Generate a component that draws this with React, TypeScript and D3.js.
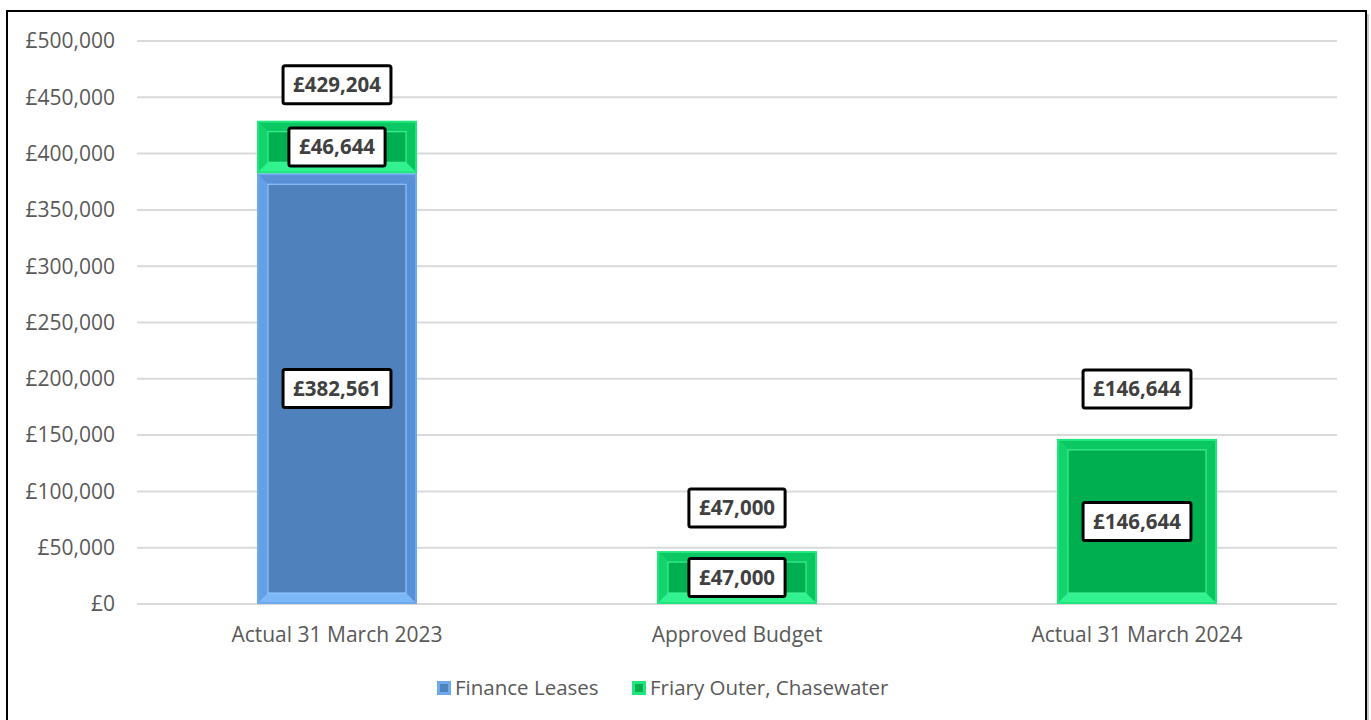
import React, { useEffect, useRef } from "react";
import * as d3 from "d3";

const categories = ["Actual 31 March 2023", "Approved Budget", "Actual 31 March 2024"];
const financeLeases = [382561, 0, 0];
const friaryOuter = [46644, 47000, 146644];
const totals = [429204, 47000, 146644];
const seriesNames = ["Finance Leases", "Friary Outer, Chasewater"];
const yTicks = [0, 50000, 100000, 150000, 200000, 250000, 300000, 350000, 400000, 450000, 500000];

const W = 1371;
const H = 720;
const FONT = "'Open Sans', 'DejaVu Sans', sans-serif";

const palettes = {
  blue: {
    outer: "#6ea8ef",
    top: "#5a90d6",
    left: "#64a0e6",
    right: "#5890d8",
    bottom: "#7cb8f8",
    inner: "#4f81bd",
    innerStroke: "#9ccaff",
  },
  green: {
    outer: "#1ee87c",
    top: "#0cc862",
    left: "#12d46b",
    right: "#0bc460",
    bottom: "#30f28e",
    inner: "#00b050",
    innerStroke: "#48f79a",
  },
};

type Pal = typeof palettes.blue;

function drawBevel(g: any, x: number, y: number, w: number, h: number, p: Pal) {
  const o = 2;
  const b = Math.min(9, h / 4);
  g.append("rect").attr("x", x).attr("y", y).attr("width", w).attr("height", h).attr("fill", p.outer);
  const x0 = x + o, y0 = y + o, x1 = x + w - o, y1 = y + h - o;
  const ix0 = x0 + b, iy0 = y0 + b, ix1 = x1 - b, iy1 = y1 - b;
  const poly = (pts: number[][], fill: string) =>
    g.append("polygon").attr("points", pts.map((q) => q.join(",")).join(" ")).attr("fill", fill);
  poly([[x0, y0], [x1, y0], [ix1, iy0], [ix0, iy0]], p.top);
  poly([[x0, y0], [ix0, iy0], [ix0, iy1], [x0, y1]], p.left);
  poly([[x1, y0], [x1, y1], [ix1, iy1], [ix1, iy0]], p.right);
  poly([[x0, y1], [ix0, iy1], [ix1, iy1], [x1, y1]], p.bottom);
  g.append("rect")
    .attr("x", ix0)
    .attr("y", iy0)
    .attr("width", Math.max(0, ix1 - ix0))
    .attr("height", Math.max(0, iy1 - iy0))
    .attr("fill", p.inner)
    .attr("stroke", p.innerStroke)
    .attr("stroke-width", 1);
}

export default function App() {
  const ref = useRef<SVGSVGElement | null>(null);

  useEffect(() => {
    const svg = d3.select(ref.current);
    svg.selectAll("*").remove();

    // chart border with shadow
    svg.append("rect").attr("x", 10).attr("y", 14).attr("width", 1359).attr("height", 720).attr("fill", "#c8c8c8");
    svg
      .append("rect")
      .attr("x", 7)
      .attr("y", 11)
      .attr("width", 1359)
      .attr("height", 720)
      .attr("fill", "#ffffff")
      .attr("stroke", "#000")
      .attr("stroke-width", 2);

    const left = 137, right = 1337, top = 41, bottom = 604;
    const x = d3.scaleBand().domain(categories).range([left, right]).paddingInner(0.6).paddingOuter(0.3);
    const y = d3.scaleLinear().domain([0, 500000]).range([bottom, top]);

    const fmt = (v: number) => "£" + d3.format(",")(v);

    // gridlines
    svg
      .append("g")
      .selectAll("line")
      .data(yTicks)
      .join("line")
      .attr("x1", left)
      .attr("x2", right)
      .attr("y1", (d) => y(d))
      .attr("y2", (d) => y(d))
      .attr("stroke", "#d9d9d9")
      .attr("stroke-width", 2);

    // y tick labels
    svg
      .append("g")
      .selectAll("text")
      .data(yTicks)
      .join("text")
      .attr("x", 115)
      .attr("y", (d) => y(d))
      .attr("dy", "0.35em")
      .attr("text-anchor", "end")
      .attr("font-family", FONT)
      .attr("font-size", 21)
      .attr("fill", "#595959")
      .text((d) => fmt(d));

    // x labels
    svg
      .append("g")
      .selectAll("text")
      .data(categories)
      .join("text")
      .attr("x", (d) => (x(d) as number) + x.bandwidth() / 2)
      .attr("y", 635)
      .attr("dy", "0.35em")
      .attr("text-anchor", "middle")
      .attr("font-family", FONT)
      .attr("font-size", 21)
      .attr("fill", "#595959")
      .text((d) => d);

    const bars = svg.append("g");
    const labels: { cx: number; cy: number; text: string }[] = [];
    const totalOffsets = [36, 43, 50];

    categories.forEach((c, i) => {
      const bx = x(c) as number;
      const bw = x.bandwidth();
      const f = financeLeases[i];
      const g2 = friaryOuter[i];
      if (f > 0) {
        drawBevel(bars, bx, y(f), bw, y(0) - y(f), palettes.blue);
        labels.push({ cx: bx + bw / 2, cy: (y(f) + y(0)) / 2, text: fmt(f) });
      }
      if (g2 > 0) {
        drawBevel(bars, bx, y(f + g2), bw, y(f) - y(f + g2), palettes.green);
        labels.push({ cx: bx + bw / 2, cy: (y(f + g2) + y(f)) / 2, text: fmt(g2) });
      }
      labels.push({ cx: bx + bw / 2, cy: y(totals[i]) - totalOffsets[i], text: fmt(totals[i]) });
    });

    // data labels with boxes
    const lg = svg.append("g");
    labels.forEach((l) => {
      const gg = lg.append("g");
      const rect = gg.append("rect");
      const t = gg
        .append("text")
        .attr("x", l.cx)
        .attr("y", l.cy)
        .attr("dy", "0.36em")
        .attr("text-anchor", "middle")
        .attr("font-family", FONT)
        .attr("font-weight", "bold")
        .attr("font-size", 20.5)
        .attr("fill", "#404040")
        .text(l.text);
      const tw = (t.node() as SVGTextElement).getComputedTextLength();
      const bw = tw + 20;
      const bh = 38;
      rect
        .attr("x", l.cx - bw / 2)
        .attr("y", l.cy - bh / 2)
        .attr("width", bw)
        .attr("height", bh)
        .attr("rx", 2)
        .attr("fill", "#fff")
        .attr("stroke", "#000")
        .attr("stroke-width", 3);
    });

    // legend
    const leg = svg.append("g");
    const legItems = [
      { name: seriesNames[0], pal: palettes.blue, x: 437 },
      { name: seriesNames[1], pal: palettes.green, x: 632 },
    ];
    legItems.forEach((it) => {
      const sg = leg.append("g");
      sg.append("rect").attr("x", it.x).attr("y", 681).attr("width", 14).attr("height", 14).attr("fill", it.pal.outer);
      sg.append("rect").attr("x", it.x + 3).attr("y", 684).attr("width", 8).attr("height", 8).attr("fill", it.pal.inner);
      leg
        .append("text")
        .attr("x", it.x + 18)
        .attr("y", 688)
        .attr("dy", "0.35em")
        .attr("font-family", FONT)
        .attr("font-size", 20.5)
        .attr("fill", "#595959")
        .text(it.name);
    });
  }, []);

  return (
    <svg
      ref={ref}
      width={W}
      height={H}
      style={{ position: "absolute", left: 0, top: 0, display: "block" }}
    />
  );
}
